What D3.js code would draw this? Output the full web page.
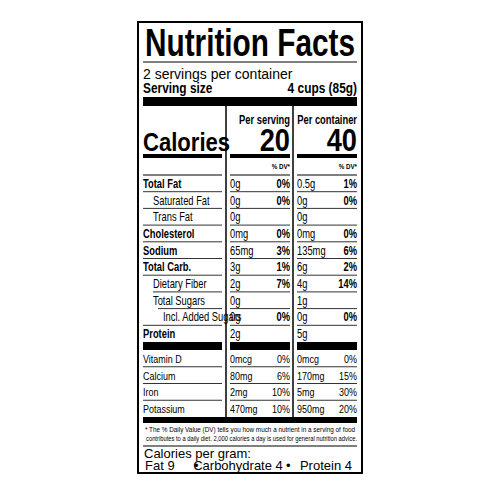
<!DOCTYPE html>
<html><head><meta charset="utf-8">
<script src="https://cdn.jsdelivr.net/npm/d3@7"></script>
<style>body{margin:0;background:#fff}text{font-family:"Liberation Sans",Arial,sans-serif}</style>
</head><body><svg id="c" width="500" height="500"></svg>
<script>
const nutrients = ["Total Fat","Saturated Fat","Trans Fat","Cholesterol","Sodium","Total Carb.","Dietary Fiber","Total Sugars","Incl. Added Sugars","Protein"];
const indent = [0,1,1,0,0,0,1,1,2,0];
const bold = [1,0,0,1,1,1,0,0,0,1];
const servingAmt = ["0g","0g","0g","0mg","65mg","3g","2g","0g","0g","2g"];
const servingDV = ["0%","0%","","0%","3%","1%","7%","","0%",""];
const containerAmt = ["0.5g","0g","0g","0mg","135mg","6g","4g","1g","0g","5g"];
const containerDV = ["1%","0%","","0%","6%","2%","14%","","0%",""];
const vitamins = ["Vitamin D","Calcium","Iron","Potassium"];
const vServingAmt = ["0mcg","80mg","2mg","470mg"];
const vServingDV = ["0%","6%","10%","10%"];
const vContainerAmt = ["0mcg","170mg","5mg","950mg"];
const vContainerDV = ["0%","15%","30%","20%"];
const calories = [20, 40];

const svg = d3.select("#c");
const L=138,R=362,T=22,B=473;
svg.append("rect").attr("x",L).attr("y",T).attr("width",R-L).attr("height",B-T).attr("fill","#fff").attr("stroke","#000").attr("stroke-width",2);
const c1=[143,222], c2=[230,290], c3=[297,357];
const line=(x1,x2,y,w,col)=>svg.append("line").attr("x1",x1).attr("x2",x2).attr("y1",y).attr("y2",y).attr("stroke",col||"#000").attr("stroke-width",w);
// condensed text via horizontal scale
const txt=(x,y,s,size,w,anchor,sx)=>svg.append("text").attr("transform",`translate(${x},${y}) scale(${sx||0.78},1)`).attr("font-size",size).attr("font-weight",w?"bold":"normal").attr("text-anchor",anchor||"start").text(s);

txt(145,56,"Nutrition Facts",38,1,"start",1).attr("textLength",210).attr("lengthAdjust","spacingAndGlyphs");
line(143,357,62,1);
txt(143,79,"2 servings per container",14,0,"start",1);
txt(143,93,"Serving size",14,1,"start",0.85);
txt(357,93,"4 cups (85g)",14,1,"end",0.85);
svg.append("rect").attr("x",143).attr("y",97).attr("width",214).attr("height",9);

svg.append("line").attr("x1",226).attr("x2",226).attr("y1",106).attr("y2",418).attr("stroke","#000").attr("stroke-width",1.5);
svg.append("line").attr("x1",293).attr("x2",293).attr("y1",106).attr("y2",418).attr("stroke","#000").attr("stroke-width",1.5);

txt(290,124,"Per serving",12,1,"end");
txt(357,124,"Per container",12,1,"end");
txt(143,151,"Calories",26,1,"start",0.85);
txt(290,151,calories[0],32,1,"end",0.85);
txt(357,151,calories[1],32,1,"end",0.85);
[c1,c2,c3].forEach(c=>svg.append("rect").attr("x",c[0]).attr("y",154).attr("width",c[1]-c[0]).attr("height",4));
txt(290,169,"% DV*",8,1,"end");
txt(357,169,"% DV*",8,1,"end");
[c1,c2,c3].forEach(c=>line(c[0],c[1],175,1));

const y = d3.scaleBand().domain(nutrients).range([175,342]);
nutrients.forEach((n,i)=>{
  const yb=y(n)+y.bandwidth()/2+4.5;
  txt(143+indent[i]*10,yb,n,12,bold[i]);
  txt(230,yb,servingAmt[i],12,0);
  txt(290,yb,servingDV[i],12,1,"end");
  txt(297,yb,containerAmt[i],12,0);
  txt(357,yb,containerDV[i],12,1,"end");
  if(i<nutrients.length-1){const yl=y(n)+y.bandwidth(); line(i==7?158:(i==6?153:143),222,yl,1,"#333");line(c2[0],c2[1],yl,1,"#333");line(c3[0],c3[1],yl,1,"#333");}
});
[c1,c2,c3].forEach(c=>svg.append("rect").attr("x",c[0]).attr("y",342).attr("width",c[1]-c[0]).attr("height",8));

const yv = d3.scaleBand().domain(vitamins).range([350,417]);
vitamins.forEach((n,i)=>{
  const yb=yv(n)+yv.bandwidth()/2+4.5;
  txt(143,yb,n,11.5,0);
  txt(230,yb,vServingAmt[i],11.5,0);
  txt(290,yb,vServingDV[i],11.5,0,"end");
  txt(297,yb,vContainerAmt[i],11.5,0);
  txt(357,yb,vContainerDV[i],11.5,0,"end");
  if(i<vitamins.length-1){const yl=yv(n)+yv.bandwidth();[c1,c2,c3].forEach(c=>line(c[0],c[1],yl,1,"#333"));}
});
svg.append("rect").attr("x",143).attr("y",417).attr("width",214).attr("height",6);
txt(145,432,"* The % Daily Value (DV) tells you how much a nutrient in a serving of food",7.5,0,"start",1).attr("textLength",210).attr("lengthAdjust","spacingAndGlyphs");
txt(146,441,"contributes to a daily diet. 2,000 calories a day is used for general nutrition advice.",7.5,0,"start",1).attr("textLength",211).attr("lengthAdjust","spacingAndGlyphs");
line(143,357,446,1);
txt(144,458,"Calories per gram:",13,0,"start",1);
txt(145,470,"Fat 9",13,0,"start",1);
txt(194,470,"•",13,0,"start",1);
txt(238,470,"Carbohydrate 4",13,0,"middle",1);
txt(286,470,"•",13,0,"start",1);
txt(352,470,"Protein 4",13,0,"end",1);
</script></body></html>
